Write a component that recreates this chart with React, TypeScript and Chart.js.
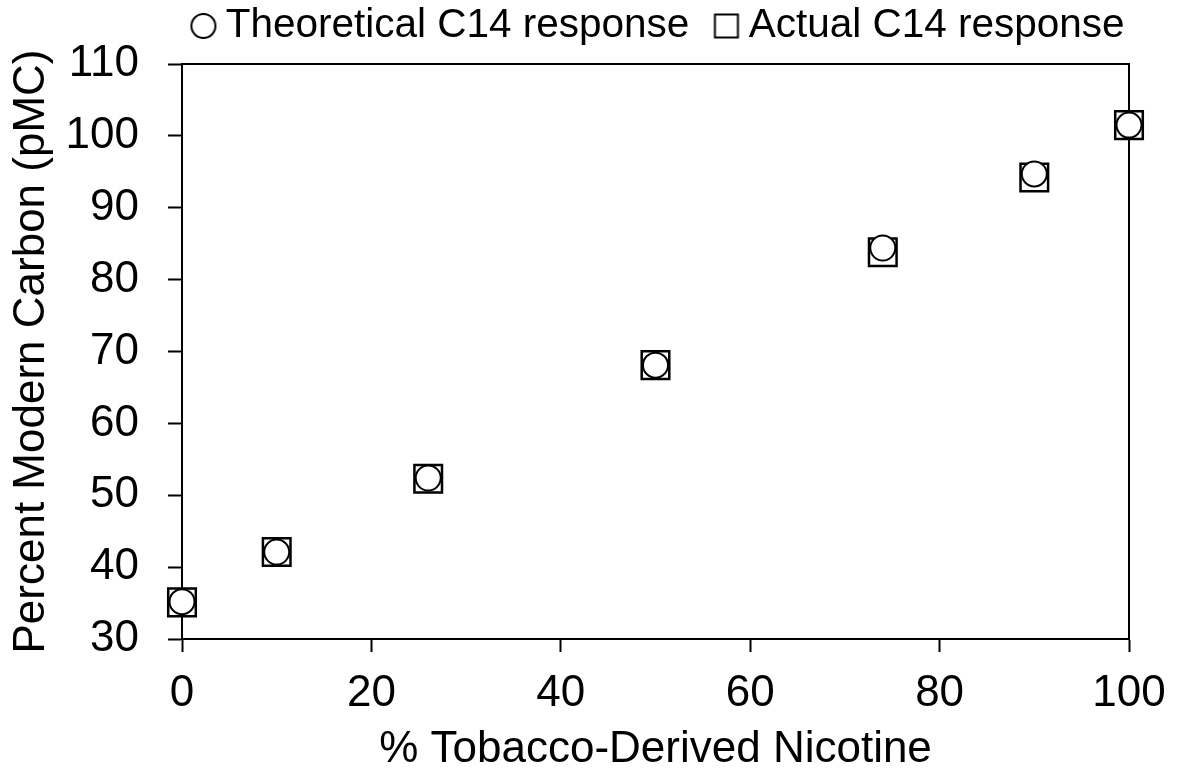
import React, { useEffect, useRef } from 'react';
import { Chart, registerables } from 'chart.js';

Chart.register(...registerables);

// ---- Data ----
const nicotinePercent = [0, 10, 26, 50, 74, 90, 100];
const theoreticalPMC = [35.2, 42.1, 52.4, 68.1, 84.4, 94.7, 101.5];
const actualPMC = [35.1, 42.1, 52.3, 68.1, 83.8, 94.2, 101.5];
const seriesLabels = ['Theoretical C14 response', 'Actual C14 response'];
const xTickValues = [0, 20, 40, 60, 80, 100];
const yTickValues = [30, 40, 50, 60, 70, 80, 90, 100, 110];
const xAxisTitle = '% Tobacco-Derived Nicotine';
const yAxisTitle = 'Percent Modern Carbon (pMC)';

const FONT = '"Liberation Sans", Arial, Helvetica, sans-serif';

function makeMarker(shape: 'circle' | 'square'): HTMLCanvasElement {
  const c = document.createElement('canvas');
  c.width = 30;
  c.height = 30;
  const ctx = c.getContext('2d')!;
  ctx.lineWidth = 2;
  ctx.strokeStyle = '#000';
  ctx.fillStyle = '#fff';
  ctx.beginPath();
  if (shape === 'circle') {
    ctx.arc(15, 15, 12, 0, Math.PI * 2);
  } else {
    ctx.rect(3.5, 3.5, 23, 23);
  }
  ctx.fill();
  ctx.stroke();
  return c;
}

const LEGEND_PAD = 35;
const LEGEND_FONT = 40.5;

const framePlugin = {
  id: 'frameAndLegendPos',
  afterLayout(chart: any) {
    const lg = chart.legend;
    if (lg) {
      const center = 663;
      lg.left = center - 580;
      lg.right = center + 580;
      lg.width = lg.right - lg.left;
      lg.top = 26 - LEGEND_PAD - LEGEND_FONT / 2;
      lg.bottom = chart.chartArea.top;
      lg.height = lg.bottom - lg.top;
    }
  },
  beforeDatasetsDraw(chart: any) {
    const { ctx, chartArea } = chart;
    const { left, top, right, bottom } = chartArea;
    ctx.save();
    ctx.strokeStyle = '#000';
    ctx.lineWidth = 2;
    ctx.beginPath();
    ctx.moveTo(left - 1, top);
    ctx.lineTo(right, top);
    ctx.lineTo(right, bottom + 1);
    ctx.stroke();
    ctx.restore();
  },
};

export default function App() {
  const ref = useRef<HTMLCanvasElement>(null);

  useEffect(() => {
    if (!ref.current) return;
    const markers = [makeMarker('circle'), makeMarker('square')];
    const chart = new Chart(ref.current, {
      type: 'scatter',
      data: {
        datasets: [
          {
            label: seriesLabels[0],
            data: nicotinePercent.map((x, i) => ({ x, y: theoreticalPMC[i] })),
            pointStyle: 'circle',
            pointRadius: 12.5,
            pointHoverRadius: 12.5,
            borderWidth: 2,
            borderColor: '#000',
            backgroundColor: '#fff',
            clip: false,
          },
          {
            label: seriesLabels[1],
            data: nicotinePercent.map((x, i) => ({ x, y: actualPMC[i] })),
            pointStyle: 'rect',
            pointRadius: 19.5,
            pointHoverRadius: 19.5,
            borderWidth: 2.5,
            borderColor: '#000',
            backgroundColor: '#fff',
            clip: false,
          },
        ],
      },
      options: {
        animation: false,
        responsive: true,
        maintainAspectRatio: false,
        events: [],
        layout: { padding: { left: 0, right: 56, top: 0, bottom: 0 } },
        plugins: {
          tooltip: { enabled: false },
          legend: {
            display: true,
            position: 'top',
            maxHeight: 64,
            labels: {
              usePointStyle: true,
              boxWidth: 4,
              boxHeight: 4,
              padding: LEGEND_PAD,
              color: '#000',
              font: { family: FONT, size: LEGEND_FONT },
              generateLabels(c: any) {
                const items = (Chart.defaults.plugins.legend.labels as any).generateLabels(c);
                items.forEach((it: any, i: number) => {
                  it.pointStyle = markers[i];
                });
                return items;
              },
            },
          },
        },
        scales: {
          x: {
            type: 'linear',
            min: 0,
            max: 100,
            afterBuildTicks(scale: any) {
              scale.ticks = xTickValues.map((v) => ({ value: v }));
            },
            afterFit(scale: any) {
              scale.height = 130;
            },
            ticks: {
              color: '#000',
              font: { family: FONT, size: 44 },
              padding: 15,
              maxRotation: 0,
            },
            grid: {
              display: true,
              drawOnChartArea: false,
              drawTicks: true,
              tickLength: 13,
              tickWidth: 2,
              tickColor: '#000',
            },
            border: { display: true, color: '#000', width: 2 },
            title: {
              display: true,
              text: xAxisTitle,
              color: '#000',
              font: { family: FONT, size: 44, lineHeight: 1 },
              padding: { top: 0, bottom: -3 },
            },
          },
          y: {
            type: 'linear',
            min: 30,
            max: 110,
            afterBuildTicks(scale: any) {
              scale.ticks = yTickValues.map((v) => ({ value: v }));
            },
            afterFit(scale: any) {
              scale.width = 182;
            },
            ticks: {
              color: '#000',
              font: { family: FONT, size: 44 },
              padding: 29,
            },
            grid: {
              display: true,
              drawOnChartArea: false,
              drawTicks: true,
              tickLength: 14,
              tickWidth: 2,
              tickColor: '#000',
            },
            border: { display: true, color: '#000', width: 2 },
            title: {
              display: true,
              text: yAxisTitle,
              color: '#000',
              font: { family: FONT, size: 44, lineHeight: 1 },
              padding: { top: 10, bottom: 0 },
            },
          },
        },
      } as any,
      plugins: [framePlugin],
    });
    return () => chart.destroy();
  }, []);

  return (
    <div
      style={{
        position: 'fixed',
        left: 0,
        top: 0,
        width: 1185,
        height: 769,
        background: '#fff',
      }}
    >
      <canvas ref={ref} />
    </div>
  );
}
